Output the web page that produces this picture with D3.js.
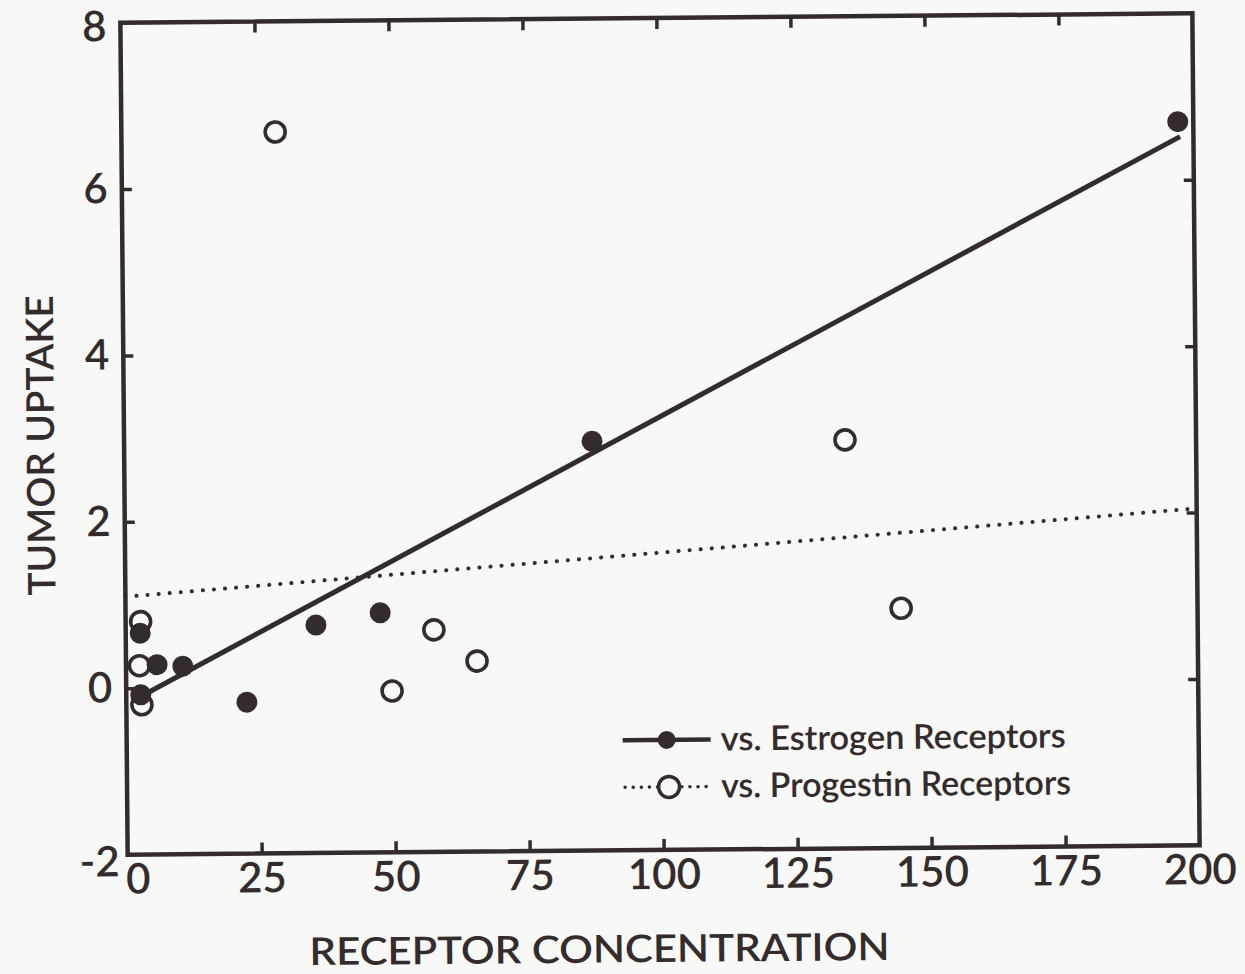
<!DOCTYPE html>
<html>
<head>
<meta charset="utf-8">
<script src="https://cdn.jsdelivr.net/npm/d3@7"></script>
<style>
  html, body { margin: 0; padding: 0; background: #f8f8f6; }
  svg { display: block; }
  text { font-family: Lato, "Noto Sans", sans-serif; fill: #342c2c; }
</style>
</head>
<body>
<svg id="chart" width="1245" height="974"></svg>
<script>
// ---- data ----
const xTicks = [0, 25, 50, 75, 100, 125, 150, 175, 200];
const yTicks = [-2, 0, 2, 4, 6, 8];

// Tumor uptake vs. estrogen receptor concentration (filled circles)
const estrogenX = [197.1, 87.3, 35.5, 47.5, 22.5, 10.6, 5.8, 2.7, 2.7];
const estrogenY = [6.70, 2.92, 0.74, 0.88, -0.18, 0.26, 0.28, 0.66, -0.08];

// Tumor uptake vs. progestin receptor concentration (open circles)
const progestinX = [28.7, 134.5, 144.7, 57.5, 65.5, 49.6, 2.8, 2.5, 2.9];
const progestinY = [6.67, 2.91, 0.88, 0.67, 0.29, -0.06, 0.80, 0.27, -0.20];

// Fitted regression lines (end points)
const estrogenFitX = [2.7, 197.5];
const estrogenFitY = [-0.10, 6.52];
const progestinFitX = [0, 200];
const progestinFitY = [1.10, 2.05];

const xTitle = "RECEPTOR CONCENTRATION";
const yTitle = "TUMOR UPTAKE";
const legendLabels = ["vs. Estrogen Receptors", "vs. Progestin Receptors"];

// ---- layout ----
const ink = "#342c2c";
const bg = "#f8f8f6";
const L = 124, R = 1196, T = 18, B = 850;

const svg = d3.select("#chart");
svg.append("rect").attr("width", 1245).attr("height", 974).attr("fill", bg);

// the scanned figure is slightly rotated
const g = svg.append("g").attr("transform", "rotate(-0.5, 660, 434)");

const x = d3.scaleLinear().domain([0, 200]).range([L, R]);
const y = d3.scaleLinear().domain([-2, 8]).range([B, T]);

const fmt = d => String(d).replace("\u2212", "-");

// axes (inward ticks) on all four sides
const innerX = xTicks.slice(1, -1);
const innerY = yTicks.slice(1, -1);

const axB = g.append("g").attr("transform", `translate(0,${B})`)
  .call(d3.axisBottom(x).tickValues(xTicks).tickSizeInner(-11).tickSizeOuter(0).tickPadding(9).tickFormat(fmt));
const axT = g.append("g").attr("transform", `translate(0,${T})`)
  .call(d3.axisTop(x).tickValues(innerX).tickSizeInner(-11).tickSizeOuter(0).tickFormat(""));
const axL = g.append("g").attr("transform", `translate(${L},0)`)
  .call(d3.axisLeft(y).tickValues(yTicks).tickSizeInner(-10).tickSizeOuter(0).tickPadding(14).tickFormat(fmt));
const axR = g.append("g").attr("transform", `translate(${R},0)`)
  .call(d3.axisRight(y).tickValues(innerY).tickSizeInner(-10).tickSizeOuter(0).tickFormat(""));

[axB, axT, axL, axR].forEach(a => {
  a.select(".domain").remove();
  a.selectAll(".tick line").attr("stroke", ink).attr("stroke-width", 3.5);
  a.selectAll(".tick text").attr("fill", ink).attr("font-size", 42).attr("font-weight", 600)
    .attr("font-family", "Lato, sans-serif");
});
// hide ticks exactly at the frame edges
axB.selectAll(".tick").filter(d => d === 0 || d === 200).select("line").remove();
axL.selectAll(".tick").filter(d => d === -2 || d === 8).select("line").remove();
axB.selectAll(".tick text").attr("dy", "0.71em");
axB.selectAll(".tick").filter(d => d === 0).select("text").attr("dx", 10);
axL.selectAll(".tick").filter(d => d === -2).select("text").attr("dx", 6).attr("dy", "0.5em");
axL.selectAll(".tick").filter(d => d === 8).select("text").attr("dy", "0.42em");

// frame
g.append("rect").attr("x", L).attr("y", T).attr("width", R - L).attr("height", B - T)
  .attr("fill", "none").attr("stroke", ink).attr("stroke-width", 4.5);

// regression lines
const line = d3.line().x(d => x(d[0])).y(d => y(d[1]));
g.append("path").datum(progestinFitX.map((v, i) => [v, progestinFitY[i]]))
  .attr("d", line).attr("fill", "none").attr("stroke", ink)
  .attr("stroke-width", 4).attr("stroke-linecap", "round").attr("stroke-dasharray", "0.1 11");
g.append("path").datum(estrogenFitX.map((v, i) => [v, estrogenFitY[i]]))
  .attr("d", line).attr("fill", "none").attr("stroke", ink).attr("stroke-width", 5);

// points: open first, filled on top
g.append("g").selectAll("circle").data(progestinX.map((v, i) => [v, progestinY[i]]))
  .join("circle").attr("cx", d => x(d[0])).attr("cy", d => y(d[1])).attr("r", 10)
  .attr("fill", bg).attr("stroke", ink).attr("stroke-width", 3.6);
g.append("g").selectAll("circle").data(estrogenX.map((v, i) => [v, estrogenY[i]]))
  .join("circle").attr("cx", d => x(d[0])).attr("cy", d => y(d[1])).attr("r", 10.5)
  .attr("fill", ink);

// legend
const lg = g.append("g").attr("transform", "translate(620,0)");
lg.append("line").attr("x1", 0).attr("x2", 88).attr("y1", 740).attr("y2", 740)
  .attr("stroke", ink).attr("stroke-width", 4.5);
lg.append("circle").attr("cx", 44).attr("cy", 740).attr("r", 9).attr("fill", ink);
lg.append("line").attr("x1", 2).attr("x2", 86).attr("y1", 787).attr("y2", 787)
  .attr("stroke", ink).attr("stroke-width", 3.5).attr("stroke-linecap", "round").attr("stroke-dasharray", "0.1 8");
lg.append("circle").attr("cx", 46).attr("cy", 787).attr("r", 10.5).attr("fill", bg)
  .attr("stroke", ink).attr("stroke-width", 3.5);
lg.append("text").attr("x", 98).attr("y", 751).attr("font-size", 34).attr("font-weight", 600)
  .attr("textLength", 345).attr("lengthAdjust", "spacingAndGlyphs").text(legendLabels[0]);
lg.append("text").attr("x", 98).attr("y", 798).attr("font-size", 34).attr("font-weight", 600)
  .attr("textLength", 350).attr("lengthAdjust", "spacingAndGlyphs").text(legendLabels[1]);

// axis titles
g.append("text").attr("x", 595).attr("y", 962).attr("text-anchor", "middle")
  .attr("font-size", 38).attr("font-weight", 600)
  .attr("textLength", 580).attr("lengthAdjust", "spacingAndGlyphs").text(xTitle);
g.append("text").attr("transform", "translate(54,440) rotate(-90)").attr("text-anchor", "middle")
  .attr("font-size", 38).attr("font-weight", 600)
  .attr("textLength", 300).attr("lengthAdjust", "spacingAndGlyphs").text(yTitle);
</script>
</body>
</html>
